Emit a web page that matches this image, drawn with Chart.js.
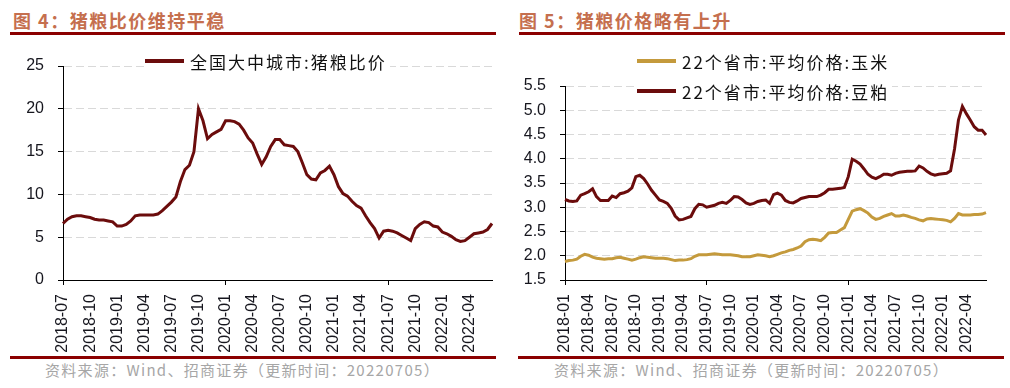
<!DOCTYPE html>
<html lang="zh">
<head>
<meta charset="utf-8">
<title>猪粮比价</title>
<script src="https://cdn.jsdelivr.net/npm/chart.js@4.4.1/dist/chart.umd.min.js"></script>
<style>
    body { margin: 0; width: 1010px; height: 388px; background: #fff; position: relative; overflow: hidden; }
    .title { position: absolute; top: 9px; font-family: "Noto Sans CJK SC", sans-serif; font-weight: bold; font-size: 18px; line-height: 22px; letter-spacing: 1.5px; color: #c56f4e; }
    .rule { position: absolute; height: 3px; background: #8b0000; }
    .source { position: absolute; top: 360px; font-family: "Noto Sans CJK SC", "Liberation Sans", sans-serif; font-size: 15px; line-height: 19px; letter-spacing: 1.3px; color: #a6a6a6; }
    .box { position: absolute; width: 505px; height: 315px; top: 40px; }
    .legend { position: absolute; display: flex; align-items: center; background: #fff; height: 20px; padding-right: 3px;
              font-family: "Noto Sans CJK SC", sans-serif; font-size: 17px; letter-spacing: 2px; color: #111; }
    .legend i { display: inline-block; width: 39px; height: 4px; margin-right: 6px; }
</style>
</head>
<body>
<div class="title" style="left:13px">图 4：猪粮比价维持平稳</div>
<div class="title" style="left:519px">图 5：猪粮价格略有上升</div>
<div class="rule" style="left:10px; width:486px; top:32px"></div>
<div class="rule" style="left:519px; width:486px; top:32px"></div>

<div class="box" style="left:0"><canvas id="ratioChart" width="505" height="315"></canvas></div>
<div class="box" style="left:505px"><canvas id="grainChart" width="505" height="315"></canvas></div>

<div class="legend" style="left:145px; top:51px"><i style="background:#6b0c0c"></i>全国大中城市:猪粮比价</div>
<div class="legend" style="left:637px; top:51px"><i style="background:#c49a3c"></i>22个省市:平均价格:玉米</div>
<div class="legend" style="left:637px; top:81px"><i style="background:#6b0c0c"></i>22个省市:平均价格:豆粕</div>

<div class="rule" style="left:10px; width:486px; top:356px"></div>
<div class="rule" style="left:518px; width:486px; top:356px"></div>
<div class="source" style="left:45px">资料来源：Wind、招商证券（更新时间：20220705）</div>
<div class="source" style="left:554px">资料来源：Wind、招商证券（更新时间：20220705）</div>

<script>
// semi-monthly readings, first one is the start month
const ratioStart = [2018, 7];
const ratioValues = [
    6.6, 7.1, 7.4, 7.5, 7.5, 7.4, 7.3, 7.1, 7.0, 7.0,
    6.9, 6.8, 6.3, 6.3, 6.5, 6.9, 7.5, 7.6, 7.6, 7.6,
    7.6, 7.7, 8.1, 8.6, 9.1, 9.7, 11.5, 12.9, 13.4, 15.0,
    20.0, 18.6, 16.5, 17.0, 17.3, 17.6, 18.6, 18.6, 18.5, 18.2,
    17.5, 16.6, 16.0, 14.7, 13.5, 14.4, 15.6, 16.4, 16.4, 15.8,
    15.7, 15.6, 15.0, 13.7, 12.3, 11.8, 11.7, 12.5, 12.8, 13.3,
    12.3, 10.9, 10.1, 9.8, 9.2, 8.7, 8.4, 7.5, 6.7, 6.0,
    4.9, 5.7, 5.8, 5.7, 5.5, 5.2, 4.9, 4.6, 6.0, 6.5,
    6.8, 6.7, 6.3, 6.2, 5.6, 5.4, 5.1, 4.7, 4.5, 4.6,
    5.0, 5.4, 5.5, 5.6, 5.9, 6.6
];
const ratioTicks = ["2018-07", "2018-10", "2019-01", "2019-04", "2019-07", "2019-10", "2020-01", "2020-04",
    "2020-07", "2020-10", "2021-01", "2021-04", "2021-07", "2021-10", "2022-01", "2022-04"];

const grainStart = [2018, 1];
const cornValues = [
    1.88, 1.90, 1.91, 1.93, 1.99, 2.03, 2.01, 1.97, 1.95, 1.94,
    1.93, 1.94, 1.94, 1.96, 1.97, 1.95, 1.93, 1.91, 1.93, 1.96,
    1.98, 1.97, 1.96, 1.95, 1.95, 1.95, 1.94, 1.92, 1.90, 1.91,
    1.91, 1.92, 1.94, 1.99, 2.02, 2.02, 2.02, 2.03, 2.04, 2.03,
    2.02, 2.02, 2.02, 2.01, 2.00, 1.98, 1.98, 1.98, 2.00, 2.02,
    2.01, 2.00, 1.98, 2.00, 2.03, 2.06, 2.08, 2.11, 2.13, 2.16,
    2.20, 2.29, 2.33, 2.34, 2.33, 2.31, 2.38, 2.47, 2.48, 2.48,
    2.53, 2.58, 2.75, 2.92, 2.95, 2.97, 2.93, 2.88, 2.80, 2.75,
    2.77, 2.81, 2.84, 2.87, 2.82, 2.82, 2.84, 2.82, 2.79, 2.77,
    2.74, 2.72, 2.76, 2.77, 2.76, 2.75, 2.74, 2.73, 2.70, 2.77,
    2.87, 2.84, 2.84, 2.84, 2.85, 2.85, 2.86, 2.89
];
const mealValues = [
    3.16, 3.13, 3.12, 3.13, 3.25, 3.28, 3.32, 3.38, 3.22, 3.14,
    3.14, 3.14, 3.23, 3.20, 3.28, 3.30, 3.33, 3.40, 3.63, 3.66,
    3.59, 3.48, 3.35, 3.25, 3.15, 3.12, 3.08, 2.98, 2.82, 2.74,
    2.75, 2.78, 2.81, 2.97, 3.06, 3.05, 3.00, 3.02, 3.04, 3.08,
    3.10, 3.08, 3.14, 3.22, 3.21, 3.16, 3.09, 3.06, 3.08, 3.12,
    3.14, 3.15, 3.08, 3.26, 3.29, 3.25, 3.14, 3.10, 3.09, 3.13,
    3.18, 3.20, 3.22, 3.22, 3.22, 3.25, 3.30, 3.37, 3.37, 3.38,
    3.39, 3.41, 3.63, 3.99, 3.95, 3.89, 3.79, 3.68, 3.62, 3.59,
    3.63, 3.68, 3.68, 3.66, 3.70, 3.72, 3.73, 3.74, 3.74, 3.75,
    3.85, 3.81, 3.74, 3.69, 3.66, 3.68, 3.69, 3.70, 3.75, 4.20,
    4.80, 5.08, 4.93, 4.80, 4.66, 4.59, 4.59, 4.49
];
const grainTicks = ["2018-01", "2018-04", "2018-07", "2018-10", "2019-01", "2019-04", "2019-07", "2019-10",
    "2020-01", "2020-04", "2020-07", "2020-10", "2021-01", "2021-04", "2021-07", "2021-10", "2022-01", "2022-04"];

const tickFont = { family: "'Liberation Sans', Arial, sans-serif", size: 16 };
const tickColor = "#16161e";
const gridColor = "#d9d9d9";

// dates on the 1st and 16th of each month
function makeDates(start, count) {
    const dates = [];
    for (let i = 0; i < count; i++) {
        const m = start[1] - 1 + Math.floor(i / 2);
        const y = start[0] + Math.floor(m / 12);
        const mm = String(m % 12 + 1).padStart(2, "0");
        dates.push(`${y}-${mm}-${i % 2 === 0 ? "01" : "16"}`);
    }
    return dates;
}

function buildChart(canvasId, dates, tickList, datasets, yOpts, layout) {
    const isTick = (i) => dates[i] && dates[i].endsWith("-01") && tickList.includes(dates[i].slice(0, 7));
    return new Chart(document.getElementById(canvasId), {
        type: "line",
        data: { labels: dates, datasets: datasets },
        options: {
            responsive: false,
            animation: false,
            layout: { padding: layout.padding },
            plugins: { legend: { display: false }, tooltip: { enabled: false } },
            elements: { point: { radius: 0 }, line: { borderWidth: 3, tension: 0 } },
            scales: {
                x: {
                    offset: false,
                    afterFit: (s) => { s.height = 75; },
                    grid: {
                        drawOnChartArea: false,
                        tickLength: 5,
                        color: (c) => isTick(c.index) ? "#000" : "rgba(0,0,0,0)"
                    },
                    border: { color: "#000", width: 1 },
                    ticks: {
                        autoSkip: false,
                        minRotation: 90,
                        maxRotation: 90,
                        padding: 9,
                        font: tickFont,
                        color: tickColor,
                        callback: (v, i) => isTick(i) ? dates[i].slice(0, 7) : null
                    }
                },
                y: {
                    min: yOpts.min,
                    max: yOpts.max,
                    afterFit: (s) => { s.width = layout.yWidth; },
                    grid: {
                        tickLength: 5,
                        tickColor: "#000",
                        color: (c) => c.tick && c.tick.value === yOpts.min ? "rgba(0,0,0,0)" : gridColor
                    },
                    border: { color: "#000", width: 1, dash: [8, 4] },
                    ticks: {
                        stepSize: yOpts.step,
                        padding: 14,
                        font: tickFont,
                        color: tickColor,
                        callback: yOpts.format
                    }
                }
            }
        }
    });
}

document.addEventListener("DOMContentLoaded", () => {
    const ratioDates = makeDates(ratioStart, ratioValues.length);
    const grainDates = makeDates(grainStart, cornValues.length);

    buildChart("ratioChart", ratioDates, ratioTicks, [
        { label: "全国大中城市:猪粮比价", data: ratioValues, borderColor: "#6b0c0c" }
    ], { min: 0, max: 25, step: 5, format: (v) => v }, { yWidth: 63, padding: { top: 26, right: 13, left: 0, bottom: 0 } });

    buildChart("grainChart", grainDates, grainTicks, [
        { label: "22个省市:平均价格:玉米", data: cornValues, borderColor: "#c49a3c" },
        { label: "22个省市:平均价格:豆粕", data: mealValues, borderColor: "#6b0c0c" }
    ], { min: 1.5, max: 5.5, step: 0.5, format: (v) => v.toFixed(1) }, { yWidth: 60, padding: { top: 46, right: 24, left: 0, bottom: 0 } });
});
</script>
</body>
</html>
